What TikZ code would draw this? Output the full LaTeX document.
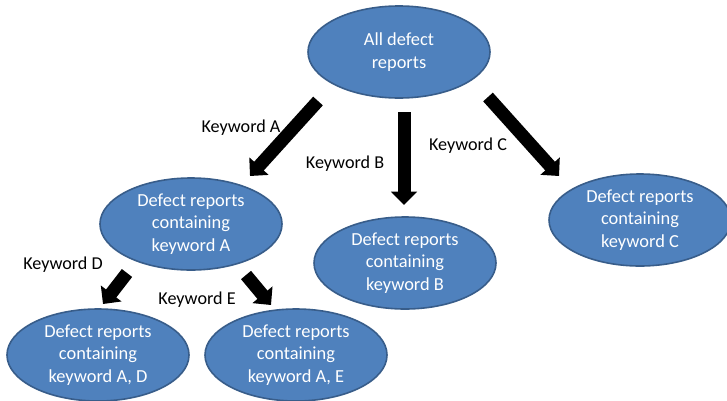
\documentclass[tikz,border=0pt]{standalone}
\usepackage{fontspec}
\setmainfont{Carlito}
\usetikzlibrary{shapes.geometric,arrows.meta}

\definecolor{ovalfill}{RGB}{79,129,189}
\definecolor{ovaldraw}{RGB}{56,93,138}

\tikzset{every picture/.style={line width=0.75pt}}
\tikzset{
  oval/.style={ellipse, draw=ovaldraw, fill=ovalfill, line width=1.2pt, text=white,
    minimum width=136.5pt, minimum height=69pt, inner sep=0pt, align=center,
    font=\fontsize{13.8}{17}\selectfont},
  kwlabel/.style={inner sep=0.75pt, font=\fontsize{13.6}{15}\selectfont},
  bigarrow/.style={line width=9.75pt, -{Triangle[width=19pt,length=10pt]}}
}

\begin{document}
\begin{tikzpicture}[x=0.75pt,y=0.75pt,yscale=-1,xscale=1]
\useasboundingbox (0,0) rectangle (727,400);

% Ellipses
\node [oval] (all) at (399,52) {All defect\\reports};
\node [oval] (kwa) at (191,224) {Defect reports\\containing\\keyword A};
\node [oval] (kwb) at (405,263) {Defect reports\\containing\\keyword B};
\node [oval] (kwc) at (640,220) {Defect reports\\containing\\keyword C};
\node [oval] (kwad) at (98,355) {Defect reports\\containing\\keyword A, D};
\node [oval] (kwae) at (296,355) {Defect reports\\containing\\keyword A, E};

% Arrow ends
\coordinate (a-s) at (318,101);
\coordinate (a-e) at (250,176);
\coordinate (b-s) at (404,112);
\coordinate (b-e) at (404,205);
\coordinate (c-s) at (488,97);
\coordinate (c-e) at (559,176);
\coordinate (d-s) at (127,273);
\coordinate (d-e) at (103,304);
\coordinate (e-s) at (246,275);
\coordinate (e-e) at (271,305);

%Straight Lines
\draw [bigarrow] (a-s) -- (a-e);
\draw [bigarrow] (b-s) -- (b-e);
\draw [bigarrow] (c-s) -- (c-e);
\draw [bigarrow] (d-s) -- (d-e);
\draw [bigarrow] (e-s) -- (e-e);

% Text Node
\node [kwlabel] (lbla) at (241,128) {Keyword A};
% Text Node
\node [kwlabel] (lblb) at (345,164) {Keyword B};
% Text Node
\node [kwlabel] (lblc) at (468,146) {Keyword C};
% Text Node
\node [kwlabel] (lbld) at (63,265) {Keyword D};
% Text Node
\node [kwlabel] (lble) at (197,300) {Keyword E};
\end{tikzpicture}
\end{document}
